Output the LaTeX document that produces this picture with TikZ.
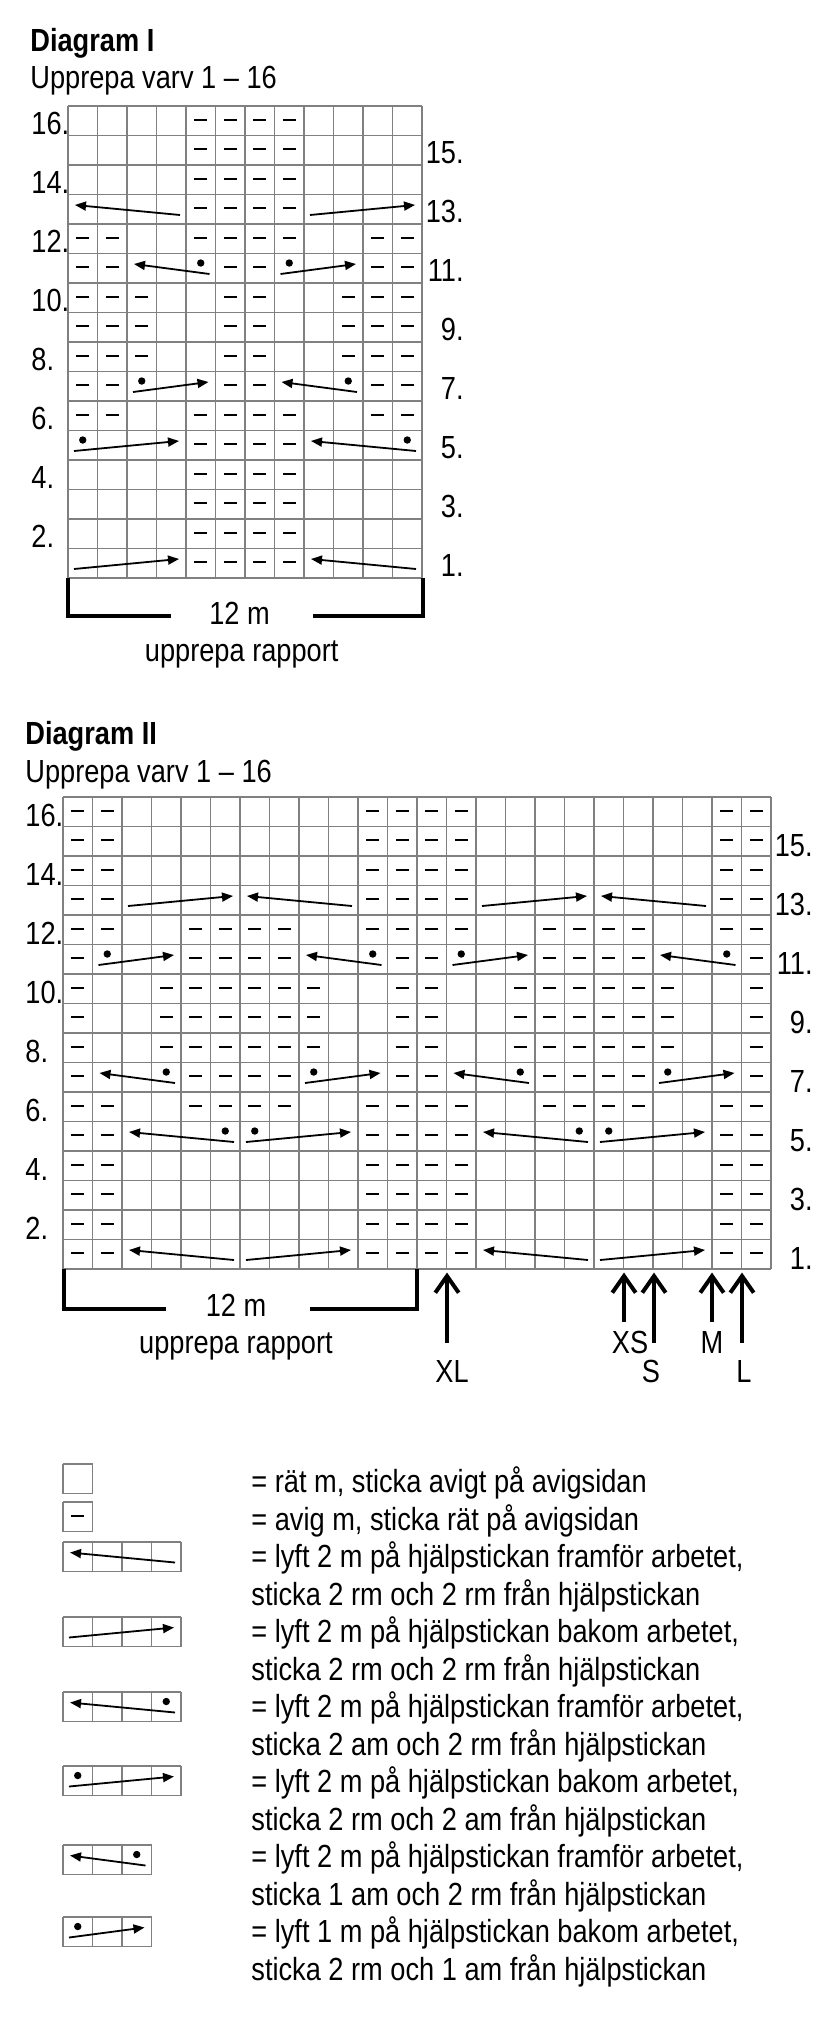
\documentclass[tikz,border=0pt]{standalone}
\usepackage{fontspec}
\setmainfont{Liberation Sans}[FakeStretch=0.85]
\usetikzlibrary{arrows.meta}
\definecolor{gridgray}{RGB}{128,128,128}
\tikzset{
  gridline/.style={draw=gridgray, line width=0.9pt, line cap=square},
  dashmark/.style={draw=black, line width=1pt},
  cablearrow/.style={draw=black, line width=0.9pt, -{Triangle[length=5.5pt,width=4.5pt]}},
  lbl/.style={inner sep=0pt, font=\fontsize{16pt}{19pt}\selectfont},
  ttl/.style={inner sep=0pt, anchor=base west, font=\fontsize{16pt}{19pt}\selectfont\bfseries},
  bracketline/.style={draw=black, line width=2pt, line join=miter},
  sizearrow/.style={draw=black, line width=2pt, line join=miter}
}
\newcommand\kDash[4]{\draw[dashmark] ({#1+(#3-1)*29.5+8.25},{#2+(16-#4)*29.5+13.5}) -- ++(13,0);}
\newcommand\kRow[4]{\foreach \kc in {#4} {\kDash{#1}{#2}{\kc}{#3}}}
\newcommand\kCable[7]{%
  \pgfmathsetmacro\kL{#1+(#3-1)*29.5}%
  \pgfmathsetmacro\kR{#1+(#3-1+#4)*29.5}%
  \pgfmathsetmacro\kT{#2+(16-#5)*29.5}%
  \ifx L#6\relax
    \draw[cablearrow] ({\kR-6},{\kT+20.5}) -- ({\kL+7},{\kT+10.5});%
  \else
    \draw[cablearrow] ({\kL+6},{\kT+20.5}) -- ({\kR-7},{\kT+10.5});%
  \fi
  \ifnum#7>0\relax
    \fill ({#1+(#7-1)*29.5+14.75},{\kT+9.5}) circle[radius=3.7];%
  \fi}
\newcommand\kGrid[4]{%
  \foreach \ki in {0,...,#3} {\draw[gridline] ({#1+\ki*29.5},#2) -- ({#1+\ki*29.5},{#2+#4*29.5});}
  \foreach \kj in {0,...,#4} {\draw[gridline] (#1,{#2+\kj*29.5}) -- ({#1+#3*29.5},{#2+\kj*29.5});}}
\begin{document}
\begin{tikzpicture}[x=0.5pt,y=-0.5pt]
\fill[white] (0,0) rectangle (838,2030);
\path[use as bounding box] (0,0) rectangle (838,2030);

% ---------------- Diagram I ----------------
\node[ttl] (t1) at (30,51.7) {Diagram I};
\node[lbl,anchor=base west] (s1) at (30,88.3) {Upprepa varv 1 – 16};
\kGrid{68}{106}{12}{16}
\foreach \r in {16,15,14,13,5,4,3,2,1} {\kRow{68}{106}{\r}{5,6,7,8}}
\foreach \r in {12,6} {\kRow{68}{106}{\r}{1,2,5,6,7,8,11,12}}
\foreach \r in {11,7} {\kRow{68}{106}{\r}{1,2,6,7,11,12}}
\foreach \r in {10,9,8} {\kRow{68}{106}{\r}{1,2,3,6,7,10,11,12}}
\kCable{68}{106}{1}{4}{13}{L}{0}
\kCable{68}{106}{9}{4}{13}{R}{0}
\kCable{68}{106}{3}{3}{11}{L}{5}
\kCable{68}{106}{8}{3}{11}{R}{8}
\kCable{68}{106}{3}{3}{7}{R}{3}
\kCable{68}{106}{8}{3}{7}{L}{10}
\kCable{68}{106}{1}{4}{5}{R}{1}
\kCable{68}{106}{9}{4}{5}{L}{12}
\kCable{68}{106}{1}{4}{1}{R}{0}
\kCable{68}{106}{9}{4}{1}{L}{0}
\foreach \r in {16,14,...,2} {\node[lbl,anchor=base west] (aL\r) at (31,{106+(17-\r)*29.5-1.5}) {\r.};}
\foreach \r in {15,13,...,1} {\node[lbl,anchor=base east] (aR\r) at (464,{106+(17-\r)*29.5-1.5}) {\r.};}
\coordinate (b1a) at (170.7,616);
\coordinate (b1b) at (313.3,616);
\draw[bracketline] (b1a) -- (68,616) -- (68,578);
\draw[bracketline] (b1b) -- (422.5,616) -- (422.5,578);
\node[lbl,anchor=base] (m1) at (239.5,624) {12 m};
\node[lbl,anchor=base] (r1) at (241.7,661) {upprepa rapport};

% ---------------- Diagram II ----------------
\node[ttl] (t2) at (25,744) {Diagram II};
\node[lbl,anchor=base west] (s2) at (25,782) {Upprepa varv 1 – 16};
\kGrid{63}{797}{24}{16}
\foreach \r in {16,15,14,13,5,4,3,2,1} {\kRow{63}{797}{\r}{1,2,11,12,13,14,23,24}}
\foreach \r in {12,6} {\kRow{63}{797}{\r}{1,2,5,6,7,8,11,12,13,14,17,18,19,20,23,24}}
\foreach \r in {11,7} {\kRow{63}{797}{\r}{1,5,6,7,8,12,13,17,18,19,20,24}}
\foreach \r in {10,9,8} {\kRow{63}{797}{\r}{1,4,5,6,7,8,9,12,13,16,17,18,19,20,21,24}}
\kCable{63}{797}{3}{4}{13}{R}{0}
\kCable{63}{797}{7}{4}{13}{L}{0}
\kCable{63}{797}{15}{4}{13}{R}{0}
\kCable{63}{797}{19}{4}{13}{L}{0}
\kCable{63}{797}{2}{3}{11}{R}{2}
\kCable{63}{797}{9}{3}{11}{L}{11}
\kCable{63}{797}{14}{3}{11}{R}{14}
\kCable{63}{797}{21}{3}{11}{L}{23}
\kCable{63}{797}{2}{3}{7}{L}{4}
\kCable{63}{797}{9}{3}{7}{R}{9}
\kCable{63}{797}{14}{3}{7}{L}{16}
\kCable{63}{797}{21}{3}{7}{R}{21}
\kCable{63}{797}{3}{4}{5}{L}{6}
\kCable{63}{797}{7}{4}{5}{R}{7}
\kCable{63}{797}{15}{4}{5}{L}{18}
\kCable{63}{797}{19}{4}{5}{R}{19}
\kCable{63}{797}{3}{4}{1}{L}{0}
\kCable{63}{797}{7}{4}{1}{R}{0}
\kCable{63}{797}{15}{4}{1}{L}{0}
\kCable{63}{797}{19}{4}{1}{R}{0}
\foreach \r in {16,14,...,2} {\node[lbl,anchor=base west] (bL\r) at (25,{797+(17-\r)*29.5-0.5}) {\r.};}
\foreach \r in {15,13,...,1} {\node[lbl,anchor=base east] (bR\r) at (813,{797+(17-\r)*29.5}) {\r.};}
\coordinate (b2a) at (165.7,1308.7);
\coordinate (b2b) at (310,1308.7);
\draw[bracketline] (b2a) -- (63.7,1308.7) -- (63.7,1269);
\draw[bracketline] (b2b) -- (417,1308.7) -- (417,1269);
\node[lbl,anchor=base] (m2) at (236,1316) {12 m};
\node[lbl,anchor=base] (r2) at (236,1353) {upprepa rapport};

% size arrows
\foreach \nm/\xx/\yy in {xl/447/1343, xs/624/1322, s/654/1343, m/712/1322, l/742/1343} {
  \coordinate (\nm Tip) at (\xx,1276);
  \coordinate (\nm End) at (\xx,\yy);
  \draw[sizearrow] (\nm End) -- (\nm Tip);
  \draw[sizearrow] ([xshift=-5.85pt,yshift=-8.35pt]\nm Tip) -- (\nm Tip) -- ([xshift=5.85pt,yshift=-8.35pt]\nm Tip);
}
\node[lbl,anchor=base] (nXL) at (452,1382) {XL};
\node[lbl,anchor=base] (nXS) at (630,1353) {XS};
\node[lbl,anchor=base] (nS) at (651,1382) {S};
\node[lbl,anchor=base] (nM) at (712,1353) {M};
\node[lbl,anchor=base] (nL) at (744,1382) {L};

% ---------------- Legend ----------------
\kGrid{63}{1464}{1}{1}
\kGrid{63}{1502}{1}{1} \kDash{63}{1502}{1}{16}
\kGrid{63}{1542}{4}{1} \kCable{63}{1542}{1}{4}{16}{L}{0}
\kGrid{63}{1617}{4}{1} \kCable{63}{1617}{1}{4}{16}{R}{0}
\kGrid{63}{1692}{4}{1} \kCable{63}{1692}{1}{4}{16}{L}{4}
\kGrid{63}{1766}{4}{1} \kCable{63}{1766}{1}{4}{16}{R}{1}
\kGrid{63}{1845}{3}{1} \kCable{63}{1845}{1}{3}{16}{L}{3}
\kGrid{63}{1917}{3}{1} \kCable{63}{1917}{1}{3}{16}{R}{1}
\node[lbl,anchor=base west] (g1) at (251,1492.5) {= rät m, sticka avigt på avigsidan};
\node[lbl,anchor=base west] (g2) at (251,1530) {= avig m, sticka rät på avigsidan};
\node[lbl,anchor=base west] (g3) at (251,1567.5) {= lyft 2 m på hjälpstickan framför arbetet,};
\node[lbl,anchor=base west] (g4) at (251,1605) {sticka 2 rm och 2 rm från hjälpstickan};
\node[lbl,anchor=base west] (g5) at (251,1642.5) {= lyft 2 m på hjälpstickan bakom arbetet,};
\node[lbl,anchor=base west] (g6) at (251,1680) {sticka 2 rm och 2 rm från hjälpstickan};
\node[lbl,anchor=base west] (g7) at (251,1717.5) {= lyft 2 m på hjälpstickan framför arbetet,};
\node[lbl,anchor=base west] (g8) at (251,1755) {sticka 2 am och 2 rm från hjälpstickan};
\node[lbl,anchor=base west] (g9) at (251,1792.5) {= lyft 2 m på hjälpstickan bakom arbetet,};
\node[lbl,anchor=base west] (g10) at (251,1830) {sticka 2 rm och 2 am från hjälpstickan};
\node[lbl,anchor=base west] (g11) at (251,1867.5) {= lyft 2 m på hjälpstickan framför arbetet,};
\node[lbl,anchor=base west] (g12) at (251,1905) {sticka 1 am och 2 rm från hjälpstickan};
\node[lbl,anchor=base west] (g13) at (251,1942.5) {= lyft 1 m på hjälpstickan bakom arbetet,};
\node[lbl,anchor=base west] (g14) at (251,1980) {sticka 2 rm och 1 am från hjälpstickan};
\end{tikzpicture}
\end{document}
